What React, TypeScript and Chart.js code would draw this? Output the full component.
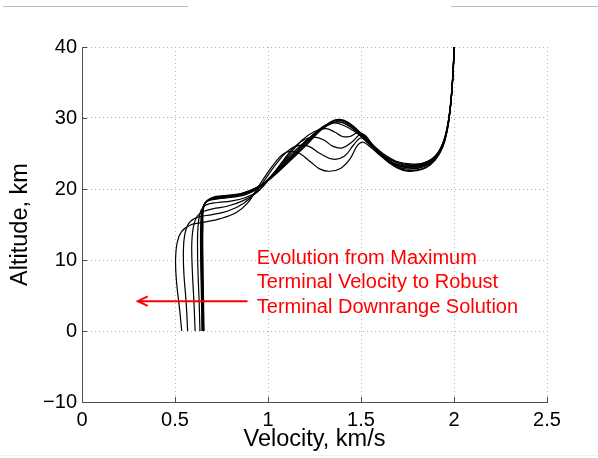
import React, { useEffect, useRef } from "react";
import { Chart, registerables } from "chart.js";

Chart.register(...registerables);

// Axis ranges and tick steps
const xRange = [0, 2.5];
const yRange = [-10, 40];
const xStep = 0.5;
const yStep = 10;

// Trajectories: [velocity km/s, altitude km]
const traj0: number[][] = [
  [0.536, 0], [0.525, 3], [0.508, 7], [0.503, 10], [0.512, 12.5], [0.535, 14], [0.58, 14.9],
  [0.65, 15.3], [0.74, 15.8], [0.83, 16.7], [0.89, 18.0], [0.94, 20.0], [0.99, 22.0],
  [1.04, 23.8], [1.08, 24.9], [1.12, 25.3], [1.17, 25.0], [1.23, 23.8], [1.28, 22.8], [1.33, 22.5],
  [1.39, 22.9], [1.44, 24.2], [1.48, 26.1], [1.51, 26.6], [1.55, 25.9], [1.6, 24.8],
  [1.65, 23.7], [1.7, 22.9], [1.75, 22.5], [1.8, 22.6], [1.85, 23.0], [1.9, 24.1],
  [1.94, 25.9], [1.965, 28.4], [1.98, 31.2], [1.99, 34.3], [1.997, 37.4], [2.0, 40],
];
const traj1: number[][] = [
  [0.568, 0], [0.56, 4], [0.548, 8], [0.545, 11], [0.552, 13.5], [0.575, 15.2], [0.62, 16],
  [0.7, 16.4], [0.785, 16.9], [0.87, 18.0], [0.93, 19.4], [0.98, 21.2], [1.04, 23.4],
  [1.1, 25.2], [1.16, 26.1], [1.22, 26], [1.28, 25], [1.35, 24.2], [1.41, 24.6], [1.46, 26.2],
  [1.5, 27.2], [1.54, 26.5], [1.6, 24.9], [1.65, 23.8], [1.7, 23.0], [1.75, 22.6], [1.8, 22.7],
  [1.85, 23.1], [1.9, 24.2], [1.94, 26.0], [1.965, 28.5], [1.98, 31.3], [1.99, 34.4],
  [1.997, 37.5], [2.0, 40],
];
const traj2: number[][] = [
  [0.608, 0], [0.602, 4], [0.594, 8], [0.59, 12], [0.598, 14.5], [0.62, 16.2], [0.66, 16.9],
  [0.72, 17.3], [0.785, 17.6], [0.87, 18.4], [0.94, 19.5], [1.0, 21.2], [1.07, 23.6],
  [1.14, 25.9], [1.2, 27.0], [1.25, 27.3], [1.3, 26.9], [1.35, 26], [1.4, 25.8], [1.45, 26.6],
  [1.5, 27.7], [1.54, 26.9], [1.6, 25.0], [1.65, 23.9], [1.7, 23.1], [1.75, 22.8], [1.8, 22.9],
  [1.85, 23.3], [1.9, 24.4], [1.94, 26.1], [1.965, 28.6], [1.98, 31.4], [1.99, 34.5],
  [1.997, 37.5], [2.0, 40],
];
const traj3: number[][] = [
  [0.634, 0], [0.63, 4], [0.624, 8], [0.621, 12], [0.625, 15], [0.64, 17], [0.67, 17.8],
  [0.73, 18.1], [0.8, 18.3], [0.88, 18.8], [0.95, 19.8], [1.02, 21.8], [1.1, 24.4],
  [1.18, 26.8], [1.25, 28.1], [1.31, 28.5], [1.36, 28.0], [1.4, 27.4], [1.44, 27.4],
  [1.48, 27.9], [1.52, 27.6], [1.56, 26.3], [1.61, 24.9], [1.66, 23.8], [1.71, 23.2], [1.76, 23.0],
  [1.81, 23.1], [1.86, 23.6], [1.9, 24.5], [1.94, 26.2], [1.965, 28.7], [1.98, 31.5],
  [1.99, 34.5], [1.997, 37.6], [2.0, 40],
];
const traj4: number[][] = [
  [0.645, 0], [0.642, 5], [0.638, 10], [0.638, 14.5], [0.645, 17], [0.67, 18.2], [0.73, 18.6],
  [0.8, 18.8], [0.88, 19.2], [0.96, 20.3], [1.05, 22.5], [1.15, 25.2], [1.24, 27.6],
  [1.31, 29], [1.36, 29.3], [1.41, 28.9], [1.46, 28.2], [1.51, 27.2], [1.56, 26.0],
  [1.61, 24.8], [1.66, 23.8], [1.71, 23.3], [1.76, 23.1], [1.81, 23.2], [1.86, 23.7],
  [1.9, 24.6], [1.94, 26.3], [1.965, 28.8], [1.98, 31.6], [1.99, 34.6], [1.997, 37.6], [2.0, 40],
];
const traj5: number[][] = [
  [0.648, 0], [0.645, 5], [0.642, 10], [0.642, 14.5], [0.65, 17.3], [0.68, 18.4], [0.74, 18.7],
  [0.82, 19], [0.9, 19.5], [0.97, 20.6], [1.06, 23.1], [1.16, 25.8], [1.25, 27.8], [1.32, 29],
  [1.375, 29.5], [1.42, 29.1], [1.47, 28.2], [1.52, 26.9], [1.57, 25.6], [1.62, 24.5],
  [1.67, 23.7], [1.72, 23.3], [1.77, 23.2], [1.82, 23.3], [1.87, 23.9], [1.91, 24.9],
  [1.94, 26.4], [1.965, 28.9], [1.98, 31.7], [1.99, 34.7], [1.997, 37.7], [2.0, 40],
];
const traj6: number[][] = [
  [0.65, 0], [0.647, 5], [0.644, 10], [0.644, 14.5], [0.652, 17.5], [0.685, 18.5], [0.75, 18.8],
  [0.83, 19.1], [0.91, 19.7], [0.98, 20.9], [1.07, 23.2], [1.17, 25.8], [1.26, 28],
  [1.33, 29.3], [1.38, 29.7], [1.43, 29.2], [1.48, 28.1], [1.53, 26.8], [1.58, 25.5],
  [1.63, 24.5], [1.68, 23.8], [1.73, 23.4], [1.78, 23.3], [1.83, 23.5], [1.88, 24.1],
  [1.92, 25.2], [1.95, 27.0], [1.97, 29.4], [1.983, 32.0], [1.992, 35.0], [1.998, 37.8], [2.0, 40],
];
const traj7: number[][] = [
  [0.652, 0], [0.649, 5], [0.646, 10], [0.646, 14.5], [0.654, 17.6], [0.69, 18.6], [0.76, 18.9],
  [0.84, 19.2], [0.92, 19.9], [0.99, 21.0], [1.08, 23.2], [1.18, 25.8], [1.27, 28.1],
  [1.34, 29.5], [1.385, 29.8], [1.43, 29.4], [1.48, 28.3], [1.53, 27.0], [1.58, 25.7],
  [1.63, 24.6], [1.68, 23.9], [1.73, 23.5], [1.78, 23.4], [1.83, 23.6], [1.88, 24.2],
  [1.92, 25.3], [1.95, 27.1], [1.97, 29.5], [1.983, 32.1], [1.992, 35.1], [1.998, 37.9], [2.0, 40],
];
const traj8: number[][] = [
  [0.654, 0], [0.651, 5], [0.648, 10], [0.648, 14.5], [0.656, 17.7], [0.695, 18.7], [0.77, 19],
  [0.85, 19.3], [0.93, 20.1], [1.0, 21.2], [1.09, 23.3], [1.19, 25.9], [1.28, 28.3],
  [1.345, 29.5], [1.39, 29.7], [1.44, 29.2], [1.49, 28.1], [1.54, 26.8], [1.59, 25.6],
  [1.64, 24.6], [1.69, 23.9], [1.74, 23.6], [1.79, 23.5], [1.84, 23.7], [1.89, 24.4],
  [1.925, 25.6], [1.952, 27.4], [1.97, 29.6], [1.983, 32.2], [1.992, 35.2], [1.998, 38.0], [2.0, 40],
];
const traj9: number[][] = [
  [0.656, 0], [0.653, 5], [0.65, 10], [0.65, 14.5], [0.658, 17.8], [0.7, 18.8], [0.78, 19.1],
  [0.86, 19.4], [0.94, 20.2], [1.01, 21.4], [1.1, 23.5], [1.2, 26.0], [1.29, 28.4],
  [1.35, 29.3], [1.395, 29.4], [1.44, 28.9], [1.49, 27.9], [1.54, 26.6], [1.59, 25.3],
  [1.64, 24.2], [1.69, 23.4], [1.74, 23.0], [1.79, 22.9], [1.84, 23.2], [1.89, 24.0],
  [1.925, 25.3], [1.952, 27.2], [1.97, 29.5], [1.983, 32.1], [1.992, 35.1], [1.998, 38.0], [2.0, 40],
];
const trajectories = [traj0, traj1, traj2, traj3, traj4, traj5, traj6, traj7, traj8, traj9];

// Annotation: arrow (tail -> head) and text anchor, in data units
const arrowTail = [0.89, 4.2];
const arrowHead = [0.3, 4.2];
const noteAnchor = [0.94, 10.2];
const noteLines = [
  "Evolution from Maximum",
  "Terminal Velocity to Robust",
  "Terminal Downrange Solution",
];

const xTitle = "Velocity, km/s";
const yTitle = "Altitude, km";

const FONT = '"Liberation Sans", Arial, Helvetica, sans-serif';
const RED = "#ff0000";

const overlayPlugin = {
  id: "overlay",
  afterDatasetsDraw(chart: any) {
    const { ctx, chartArea, scales } = chart;
    const xs = scales.x;
    const ys = scales.y;
    ctx.save();
    // inward tick marks
    ctx.strokeStyle = "#4d4d4d";
    ctx.lineWidth = 1;
    ctx.beginPath();
    xs.ticks.forEach((t: any) => {
      const px = Math.round(xs.getPixelForValue(t.value)) + 0.5;
      ctx.moveTo(px, chartArea.bottom);
      ctx.lineTo(px, chartArea.bottom - 5);
    });
    ys.ticks.forEach((t: any) => {
      const py = Math.round(ys.getPixelForValue(t.value)) + 0.5;
      ctx.moveTo(chartArea.left, py);
      ctx.lineTo(chartArea.left + 5, py);
    });
    ctx.stroke();

    // arrow
    const x1 = xs.getPixelForValue(arrowTail[0]);
    const y1 = ys.getPixelForValue(arrowTail[1]);
    const x2 = xs.getPixelForValue(arrowHead[0]);
    const y2 = ys.getPixelForValue(arrowHead[1]);
    ctx.strokeStyle = RED;
    ctx.lineWidth = 2;
    ctx.beginPath();
    ctx.moveTo(x1, y1);
    ctx.lineTo(x2, y2);
    ctx.stroke();
    const ang = Math.atan2(y2 - y1, x2 - x1);
    const hl = 11;
    const spread = 0.45;
    ctx.beginPath();
    ctx.moveTo(x2 - hl * Math.cos(ang - spread), y2 - hl * Math.sin(ang - spread));
    ctx.lineTo(x2, y2);
    ctx.lineTo(x2 - hl * Math.cos(ang + spread), y2 - hl * Math.sin(ang + spread));
    ctx.stroke();

    // text
    const tx = xs.getPixelForValue(noteAnchor[0]);
    const ty = ys.getPixelForValue(noteAnchor[1]);
    ctx.fillStyle = RED;
    ctx.font = `20px ${FONT}`;
    ctx.textAlign = "left";
    ctx.textBaseline = "middle";
    noteLines.forEach((s, i) => ctx.fillText(s, tx, ty + i * 24.3));
    ctx.restore();
  },
};

export default function App() {
  const canvasRef = useRef<HTMLCanvasElement | null>(null);

  useEffect(() => {
    const canvas = canvasRef.current;
    if (!canvas) return;
    const chart = new Chart(canvas, {
      type: "scatter",
      data: {
        datasets: trajectories.map((tr, i) => ({
          label: `traj${i}`,
          data: tr.map(([v, a]) => ({ x: v, y: a })),
          showLine: true,
          borderColor: "#000000",
          backgroundColor: "#000000",
          borderWidth: 1.2,
          pointRadius: 0,
          pointHoverRadius: 0,
          tension: 0.4,
          fill: false,
        })),
      },
      options: {
        responsive: false,
        animation: false,
        devicePixelRatio: 1,
        layout: { padding: { left: 0, top: 47, right: 51, bottom: 0 } },
        plugins: {
          legend: { display: false },
          tooltip: { enabled: false },
        },
        scales: {
          x: {
            type: "linear",
            min: xRange[0],
            max: xRange[1],
            afterFit: (s: any) => {
              s.height = 56;
            },
            ticks: {
              stepSize: xStep,
              autoSkip: false,
              maxRotation: 0,
              padding: 6,
              color: "#000",
              font: { family: FONT, size: 20 },
              callback: (v: any) => String(v),
            },
            grid: { color: "#b3b3b3", lineWidth: 1, drawTicks: false },
            border: { display: true, color: "#4d4d4d", width: 1, dash: [1, 3] },
            title: {
              display: true,
              text: xTitle,
              color: "#000",
              font: { family: FONT, size: 23.5 },
              padding: { top: 0, bottom: 4 },
            },
          },
          y: {
            type: "linear",
            min: yRange[0],
            max: yRange[1],
            afterFit: (s: any) => {
              s.width = 82;
            },
            ticks: {
              stepSize: yStep,
              autoSkip: false,
              padding: 5,
              color: "#000",
              font: { family: FONT, size: 20 },
              callback: (v: any) => (Number(v) < 0 ? "\u2212" + Math.abs(Number(v)) : String(v)),
            },
            grid: { color: "#b3b3b3", lineWidth: 1, drawTicks: false },
            border: { display: true, color: "#4d4d4d", width: 1, dash: [1, 3] },
            title: {
              display: true,
              text: yTitle,
              color: "#000",
              font: { family: FONT, size: 23.5 },
              padding: { top: 6, bottom: 0 },
            },
          },
        },
      },
      plugins: [overlayPlugin],
    });
    return () => chart.destroy();
  }, []);

  return (
    <div style={{ position: "fixed", left: 0, top: 0, width: 598, height: 458, background: "#fff" }}>
      <canvas ref={canvasRef} width={598} height={458} style={{ display: "block" }} />
      <div style={{ position: "absolute", left: 3, top: 6, width: 185, height: 1, background: "#bdbdbd" }} />
      <div style={{ position: "absolute", left: 451, top: 6, width: 147, height: 1, background: "#bdbdbd" }} />
      <div style={{ position: "absolute", left: 0, top: 455, width: 598, height: 1, background: "#efefef" }} />
    </div>
  );
}
